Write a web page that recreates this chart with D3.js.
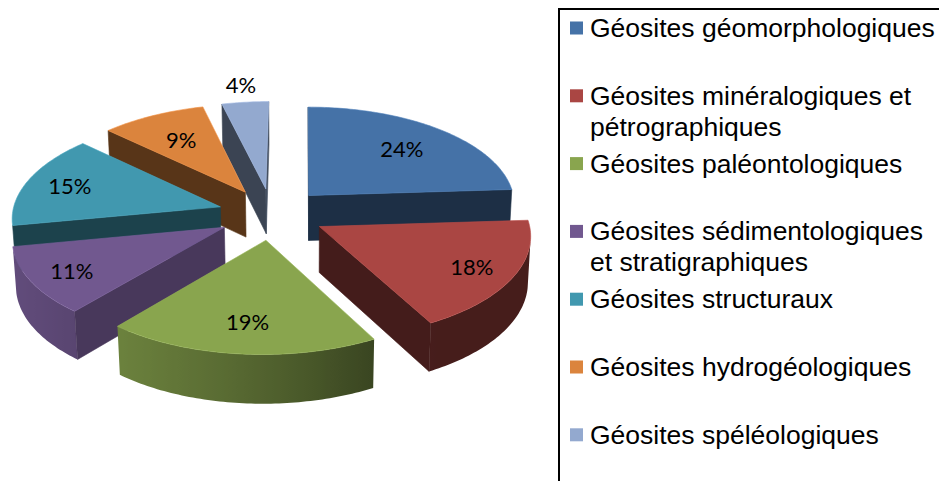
<!DOCTYPE html>
<html>
<head>
<meta charset="utf-8">
<script src="https://cdn.jsdelivr.net/npm/d3@7"></script>
<style>
  body { margin: 0; background: #ffffff; }
  svg { display: block; }
</style>
</head>
<body>
<svg id="chart" width="939" height="481"></svg>
<script>
// Categories of geosites and their share (%)
const categories = [
  "Géosites géomorphologiques",
  "Géosites minéralogiques et pétrographiques",
  "Géosites paléontologiques",
  "Géosites sédimentologiques et stratigraphiques",
  "Géosites structuraux",
  "Géosites hydrogéologiques",
  "Géosites spéléologiques"
];
const values = [24, 18, 19, 11, 15, 9, 4];
const colors = ["#4572A7", "#AA4643", "#89A54E", "#71588F", "#4198AF", "#DB843D", "#93A9CF"];
// Legend text, wrapped the way it is displayed
const legendLines = [
  ["Géosites géomorphologiques"],
  ["Géosites minéralogiques et", "pétrographiques"],
  ["Géosites paléontologiques"],
  ["Géosites sédimentologiques", "et stratigraphiques"],
  ["Géosites structuraux"],
  ["Géosites hydrogéologiques"],
  ["Géosites spéléologiques"]
];

const svg = d3.select("#chart");
const defs = svg.append("defs");

// ---- 3D view settings (pie radius = 1) ----
const tilt = 28.5 * Math.PI / 180;   // elevation of the viewer above the pie plane
const camDist = 10;                   // perspective distance
const scaleK = 208;                   // pixels per unit radius at the centre depth
const cx = 271.8, cy = 214;           // screen position of the pie centre (top face)
const skew = -30;                     // horizontal offset of the vanishing point
const explode = 0.26;                 // how far each slice is pulled out
const thick = 0.252;                  // slice thickness
const cam = [0, camDist * Math.sin(tilt), -camDist * Math.cos(tilt)];

function depth(p) { return p[2] * Math.cos(tilt) - p[1] * Math.sin(tilt); }
function project(p) {
  const w = depth(p);
  const v = p[2] * Math.sin(tilt) + p[1] * Math.cos(tilt);
  const s = 1 / (1 + w / camDist);
  return [cx + scaleK * p[0] * s + skew * (s - 1), cy - scaleK * v * s];
}
function facing(n, p) {
  return n[0] * (cam[0] - p[0]) + n[1] * (cam[1] - p[1]) + n[2] * (cam[2] - p[2]) > 0;
}
function shade(color, f) {
  const c = d3.rgb(color);
  return d3.rgb(c.r * f, c.g * f, c.b * f).formatHex();
}
// lighting of the outer wall, by the direction the wall faces (degrees, clockwise from back)
function wallShade(deg) {
  const t = Math.max(0, Math.min(1, (deg - 150) / 110));
  return 0.41 + 0.45 * Math.sin(t * Math.PI / 2);
}
// lighting of the flat cut faces
function cutShade(deg) {
  const c = Math.max(0, Math.cos((deg - 125) * Math.PI / 180));
  return 0.4 + 0.24 * Math.pow(c, 6);
}

const pie = d3.pie().sort(null).value(d => d).startAngle(0).endAngle(2 * Math.PI);
const arcs = pie(values);

const line = d3.line();
const toDeg = r => ((r * 180 / Math.PI) % 360 + 360) % 360;

const slices = arcs.map((a, i) => {
  const a0 = a.startAngle, a1 = a.endAngle, m = (a0 + a1) / 2;
  const ox = explode * Math.sin(m), oz = explode * Math.cos(m);
  const rim = (t, y) => [ox + Math.sin(t), y, oz + Math.cos(t)];
  const apex = y => [ox, y, oz];
  const steps = Math.max(4, Math.ceil((a1 - a0) / (Math.PI / 180)));
  const ts = d3.range(steps + 1).map(k => a0 + (a1 - a0) * k / steps);
  const faces = [];

  // outer wall: collect the strips that face the viewer into one shaded band
  const vis = [];
  for (let k = 0; k < steps; k++) {
    const tm = (ts[k] + ts[k + 1]) / 2;
    vis.push(facing([Math.sin(tm), 0, Math.cos(tm)], rim(tm, -thick / 2)));
  }
  let k = 0;
  while (k < steps) {
    if (!vis[k]) { k++; continue; }
    let e = k;
    while (e < steps && vis[e]) e++;
    const run = ts.slice(k, e + 1);
    const top = run.map(t => rim(t, 0));
    const bot = run.map(t => rim(t, -thick)).reverse();
    const xs = run.map(t => project(rim(t, 0))[0]);
    const x1 = d3.min(xs), x2 = d3.max(xs);
    const id = `wall-${i}-${k}`;
    const grad = defs.append("linearGradient")
      .attr("id", id).attr("gradientUnits", "userSpaceOnUse")
      .attr("x1", x1).attr("x2", x2 > x1 ? x2 : x1 + 1).attr("y1", 0).attr("y2", 0);
    run.map((t, j) => ({ x: xs[j], c: shade(colors[i], wallShade(toDeg(t))) }))
      .sort((p, q) => p.x - q.x)
      .forEach(st => grad.append("stop")
        .attr("offset", x2 > x1 ? (st.x - x1) / (x2 - x1) : 0)
        .attr("stop-color", st.c));
    faces.push({ pts: top.concat(bot), fill: `url(#${id})`, stroke: "none" });
    k = e;
  }
  // cut face at the start angle
  {
    const n = [-Math.cos(a0), 0, Math.sin(a0)];
    const pts = [apex(0), rim(a0, 0), rim(a0, -thick), apex(-thick)];
    if (facing(n, pts[1])) {
      const col = shade(colors[i], cutShade(toDeg(a0) - 90));
      faces.push({ pts, fill: col, stroke: col });
    }
  }
  // cut face at the end angle
  {
    const n = [Math.cos(a1), 0, -Math.sin(a1)];
    const pts = [apex(0), rim(a1, 0), rim(a1, -thick), apex(-thick)];
    if (facing(n, pts[1])) {
      const col = shade(colors[i], cutShade(toDeg(a1) + 90));
      faces.push({ pts, fill: col, stroke: col });
    }
  }
  // top face
  faces.push({ pts: [apex(0), ...ts.map(t => rim(t, 0))], fill: colors[i], stroke: shade(colors[i], 1.1) });

  return { i, m, ox, oz, faces, order: depth([ox, -thick / 2, oz]) };
});

const pieG = svg.append("g");
slices.slice().sort((a, b) => b.order - a.order).forEach(s => {
  const g = pieG.append("g");
  s.faces.forEach(f => {
    g.append("path")
      .attr("d", line(f.pts.map(project)) + "Z")
      .attr("fill", f.fill)
      .attr("stroke", f.stroke)
      .attr("stroke-width", 0.6)
      .attr("stroke-linejoin", "round");
  });
});

// percentage labels: inside near the rim, or just outside for very small slices
slices.forEach(s => {
  const outside = values[s.i] < 5;
  const t = svg.append("text")
    .attr("text-anchor", "middle")
    .attr("dominant-baseline", "central")
    .attr("font-family", "Lato, 'Open Sans', sans-serif")
    .attr("font-size", 22)
    .attr("fill", "#000")
    .text(values[s.i] + "%");
  const bb = t.node().getBBox();
  const c = project([s.ox, 0, s.oz]);
  const r = project([s.ox + Math.sin(s.m), 0, s.oz + Math.cos(s.m)]);
  const len = Math.hypot(r[0] - c[0], r[1] - c[1]);
  const ux = (r[0] - c[0]) / len, uy = (r[1] - c[1]) / len;
  const half = Math.abs(ux) * bb.width / 2 + Math.abs(uy) * bb.height * 0.36;
  const d = outside ? half + 5 : -(half + 19);
  t.attr("x", r[0] + ux * d).attr("y", r[1] + uy * d);
});

// ---- legend ----
const legend = svg.append("g");
legend.append("path")
  .attr("d", "M559,490V9H945")
  .attr("fill", "none")
  .attr("stroke", "#000")
  .attr("stroke-width", 2);

const rowStep = 67.8, firstRow = 28, lineStep = 31;
legendLines.forEach((lines, i) => {
  const y = firstRow + i * rowStep;
  legend.append("rect")
    .attr("x", 570).attr("y", y - 6.5)
    .attr("width", 13).attr("height", 13)
    .attr("fill", colors[i]);
  const t = legend.append("text")
    .attr("font-family", "'Liberation Sans', Arial, sans-serif")
    .attr("font-size", 26.5)
    .attr("fill", "#000");
  lines.forEach((ln, j) => {
    t.append("tspan")
      .attr("x", 590)
      .attr("y", y + j * lineStep)
      .attr("dominant-baseline", "central")
      .text(ln);
  });
});
</script>
</body>
</html>
